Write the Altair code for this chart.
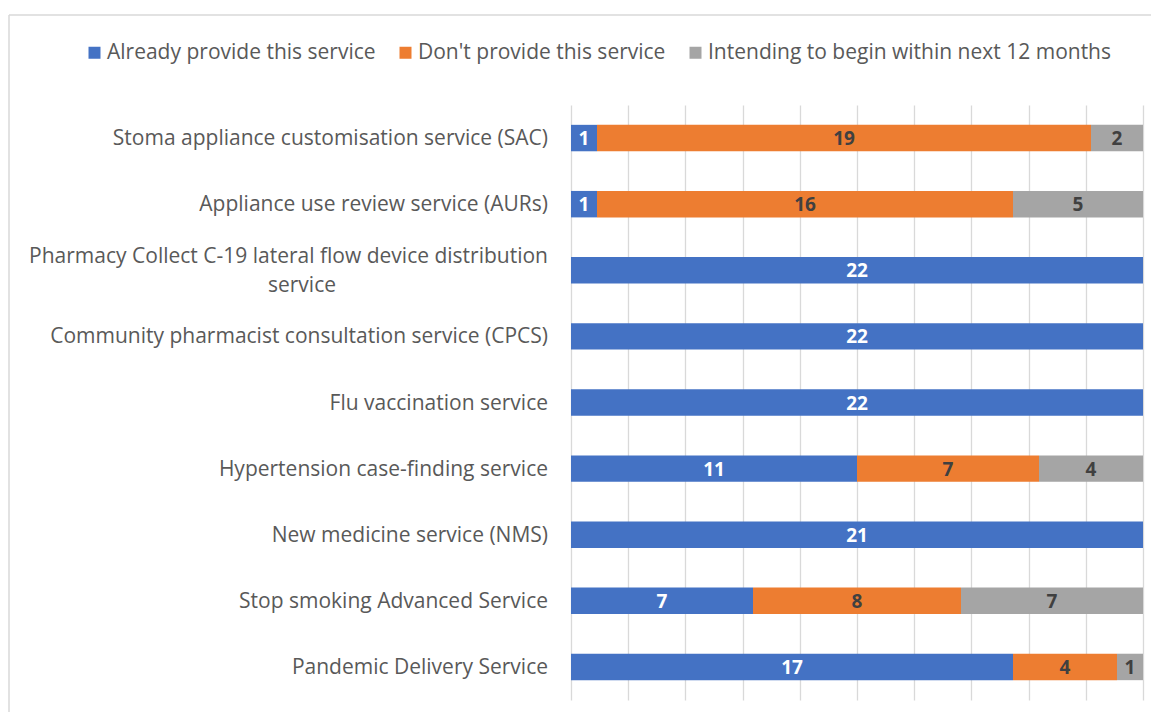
import altair as alt
import pandas as pd

services = [
    "Stoma appliance customisation service (SAC)",
    "Appliance use review service (AURs)",
    "Pharmacy Collect C-19 lateral flow device distribution service",
    "Community pharmacist consultation service (CPCS)",
    "Flu vaccination service",
    "Hypertension case-finding service",
    "New medicine service (NMS)",
    "Stop smoking Advanced Service",
    "Pandemic Delivery Service",
]
line1 = [
    "Stoma appliance customisation service (SAC)",
    "Appliance use review service (AURs)",
    "Pharmacy Collect C-19 lateral flow device distribution",
    "Community pharmacist consultation service (CPCS)",
    "Flu vaccination service",
    "Hypertension case-finding service",
    "New medicine service (NMS)",
    "Stop smoking Advanced Service",
    "Pandemic Delivery Service",
]
line2 = ["", "", "service", "", "", "", "", "", ""]

already = [1, 1, 22, 22, 22, 11, 21, 7, 17]
dont = [19, 16, 0, 0, 0, 7, 0, 8, 4]
intending = [2, 5, 0, 0, 0, 4, 0, 7, 1]

statuses = [
    "Already provide this service",
    "Don't provide this service",
    "Intending to begin within next 12 months",
]
colors = ["#4472C4", "#ED7D31", "#A5A5A5"]

FONT = "Open Sans"
FS = 21
FSD = 19

rows = []
for i, s in enumerate(services):
    for k, vals in enumerate([already, dont, intending]):
        rows.append({"service": s, "status": statuses[k], "order": k, "value": vals[i]})
df = pd.DataFrame(rows)

lab = pd.DataFrame({"service": services, "line1": line1, "line2": line2})

yenc = alt.Y("service:N", sort=services,
             scale=alt.Scale(paddingInner=0.6, paddingOuter=0.3), axis=None)

base = alt.Chart(df).transform_stack(
    stack="value", groupby=["service"], as_=["x0", "x1"],
    sort=[alt.SortField("order")], offset="normalize"
).transform_calculate(mid="(datum.x0 + datum.x1) / 2")

bars = base.mark_bar().encode(
    x=alt.X("x0:Q", scale=alt.Scale(domain=[0, 1], nice=False),
            axis=alt.Axis(values=[i / 10 for i in range(11)], labels=False, ticks=False,
                          domain=False, grid=True, gridColor="#d9d9d9", gridWidth=1.3,
                          title=None)),
    x2="x1:Q",
    y=yenc,
    color=alt.Color("status:N", scale=alt.Scale(domain=statuses, range=colors),
                    legend=alt.Legend(orient="none", legendX=-487, legendY=-63,
                                      direction="horizontal", title=None,
                                      symbolType="square", symbolSize=144,
                                      symbolStrokeWidth=0, labelFont=FONT,
                                      labelFontSize=FS, labelColor="#595959",
                                      labelLimit=0, labelOffset=2, columnPadding=19)),
)

texts = base.transform_filter("datum.value > 0").mark_text(
    font=FONT, fontSize=FSD, fontWeight="bold", baseline="middle", dy=1
).encode(
    x="mid:Q",
    y=yenc,
    text="value:Q",
    color=alt.condition("datum.order == 0", alt.value("white"), alt.value("#404040")),
)

lab_base = alt.Chart(lab)
single = lab_base.transform_filter("datum.line2 == ''").mark_text(
    align="right", baseline="middle", font=FONT, fontSize=FS, color="#595959", dy=1
).encode(x=alt.value(-23), y=yenc, text="line1:N")
wrap1 = lab_base.transform_filter("datum.line2 != ''").mark_text(
    align="right", baseline="middle", font=FONT, fontSize=FS, color="#595959", dy=-13.5
).encode(x=alt.value(-23), y=yenc, text="line1:N")
wrap2 = lab_base.transform_filter("datum.line2 != ''").mark_text(
    align="center", baseline="middle", font=FONT, fontSize=FS, color="#595959", dy=15.5
).encode(x=alt.value(-269), y=yenc, text="line2:N")

one = pd.DataFrame({"a": [0]})
border_top = alt.Chart(one).mark_rule(color="#d9d9d9", strokeWidth=1.5).encode(
    x=alt.value(-562), x2=alt.value(700), y=alt.value(-90))
border_left = alt.Chart(one).mark_rule(color="#d9d9d9", strokeWidth=1.5).encode(
    x=alt.value(-562), y=alt.value(-90), y2=alt.value(800))

chart = alt.layer(border_top, border_left, bars, texts, single, wrap1, wrap2).properties(
    width=572, height=595, autosize="none",
    padding={"left": 563, "top": 97, "right": 8, "bottom": 12},
).configure_view(stroke=None)

chart.save("out.html", embed_options={"renderer": "svg", "actions": False})
